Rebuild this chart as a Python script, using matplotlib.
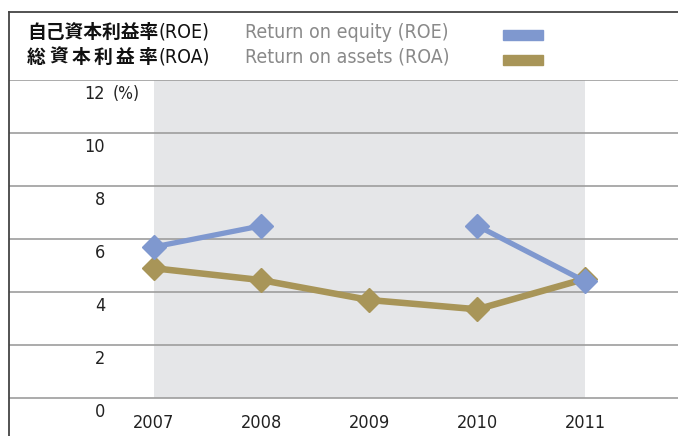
import matplotlib
matplotlib.use('Agg')
import matplotlib.pyplot as plt
from matplotlib.lines import Line2D
from matplotlib.patches import Rectangle
import numpy as np

plt.rcParams['font.family'] = ['DejaVu Sans']
plt.rcParams['font.stretch'] = 'condensed'

years = [2007, 2008, 2009, 2010, 2011]
roe = [5.7, 6.5, np.nan, 6.5, 4.4]
roa = [4.9, 4.45, 3.7, 3.35, 4.5]
yticks = [0, 2, 4, 6, 8, 10, 12]

c_roe = '#7f98cf'
c_roa = '#a89558'
c_grid = '#9d9d9d'

W, H = 678, 436
fig = plt.figure(figsize=(W / 100, H / 100), dpi=100)
ax = fig.add_axes([9 / W, 0, 1 - 9 / W, (H - 80) / H])
ax.set_xlim(2005.66, 2011.86)
ax.set_ylim(-1.43, 12)
ax.axis('off')

# shaded band
ax.axvspan(2007, 2011, ymin=1.43 / 13.43, ymax=1, color='#e5e6e8', zorder=0, lw=0)

for t in yticks:
    ax.axhline(t, color=c_grid, lw=1.2, zorder=1)
    ax.text(2006.55, t - 0.2, str(t), ha='right', va='top', fontsize=13, color='#222222')
ax.text(2006.62, 12 - 0.2, '(%)', ha='left', va='top', fontsize=12.5, color='#222222')

for x in years:
    ax.text(x, -0.6, str(x), ha='center', va='top', fontsize=13, color='#222222')

ax.plot(years, roa, color=c_roa, lw=4.7, marker='D', ms=12, zorder=3)
ax.plot(years, roe, color=c_roe, lw=3.8, marker='D', ms=12, zorder=4)

# frame lines
fig.add_artist(Line2D([9 / W, 1], [1 - 12 / H, 1 - 12 / H], color='#444444', lw=1.3))
fig.add_artist(Line2D([9 / W, 9 / W], [0, 1 - 12 / H], color='#444444', lw=1.3))

# legend
jp = ['Noto Sans CJK JP']
fig.text(27 / W, 1 - 32 / H, '自己資本利益率', fontsize=13.5, fontweight='bold',
         family=jp, va='center', ha='left', color='#111111')
fig.text(159 / W, 1 - 32 / H, '(ROE)', fontsize=14, va='center', ha='left', color='#111111')
for i, ch in enumerate('総資本利益率'):
    fig.text((36 + i * 22.3) / W, 1 - 57 / H, ch, fontsize=13.5, fontweight='bold',
             family=jp, va='center', ha='center', color='#111111')
fig.text(159 / W, 1 - 57 / H, '(ROA)', fontsize=14, va='center', ha='left', color='#111111')
fig.text(245 / W, 1 - 32 / H, 'Return on equity (ROE)', fontsize=14, color='#8a8a8a',
         va='center', ha='left')
fig.text(245 / W, 1 - 57 / H, 'Return on assets (ROA)', fontsize=14, color='#8a8a8a',
         va='center', ha='left')
fig.add_artist(Rectangle((503 / W, 1 - 40 / H), 40 / W, 10 / H, color=c_roe, transform=fig.transFigure))
fig.add_artist(Rectangle((503 / W, 1 - 65 / H), 40 / W, 10 / H, color=c_roa, transform=fig.transFigure))

fig.savefig('out.png', dpi=100)
